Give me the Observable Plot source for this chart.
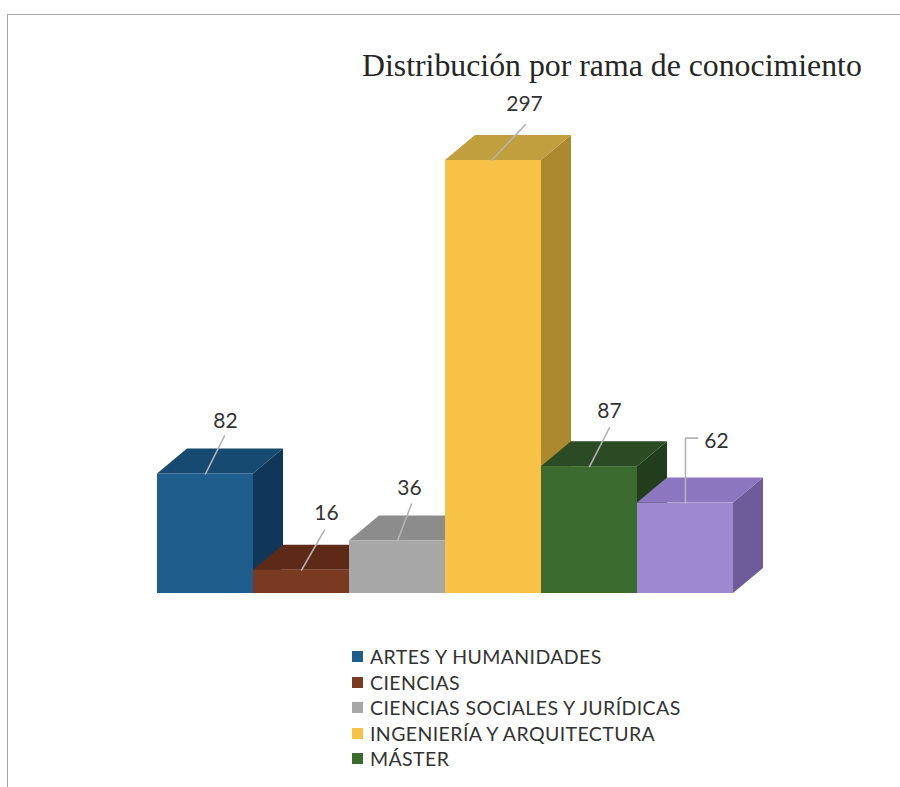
<!DOCTYPE html>
<html>
<head>
<meta charset="utf-8">
<script src="https://cdn.jsdelivr.net/npm/d3@7"></script>
<script src="https://cdn.jsdelivr.net/npm/@observablehq/plot@0.6"></script>
<style>
  html, body { margin: 0; padding: 0; background: #fff; width: 900px; height: 787px; overflow: hidden; }
  #frame { position: absolute; left: 7px; top: 14px; width: 900px; height: 800px;
           border-top: 1.5px solid #a6a6a6; border-left: 1.5px solid #a6a6a6; }
  #title { position: absolute; left: 362px; top: 50px; font-family: "Liberation Serif", "DejaVu Serif", serif;
           font-size: 31.8px; line-height: 32px; color: #262626; white-space: nowrap; }
  #chart { position: absolute; left: 0; top: 90px; }
  #legend { position: absolute; left: 352px; top: 644px; font-family: Lato, "Open Sans", sans-serif;
            font-size: 19.5px; letter-spacing: 0.4px; color: #333; }
  .li { height: 25.5px; line-height: 25.5px; white-space: nowrap; display: flex; align-items: center; }
  .sw { width: 11px; height: 11px; margin-right: 7px; flex: none; }
</style>
</head>
<body>
<div id="frame"></div>
<div id="title">Distribución por rama de conocimiento</div>
<div id="chart"></div>
<div id="legend"></div>
<script>
// ---- data ----
const categories = ["ARTES Y HUMANIDADES", "CIENCIAS", "CIENCIAS SOCIALES Y JURÍDICAS",
                    "INGENIERÍA Y ARQUITECTURA", "MÁSTER", "(sin leyenda)"];
const values = [82, 16, 36, 297, 87, 62];
const legendCategories = ["ARTES Y HUMANIDADES", "CIENCIAS", "CIENCIAS SOCIALES Y JURÍDICAS",
                          "INGENIERÍA Y ARQUITECTURA", "MÁSTER"];

// ---- styles ----
const frontColors = ["#1f5d8c", "#7a3a22", "#a7a7a7", "#f7c246", "#3c6b30", "#9e89d1"];
const topColors   = ["#174a71", "#5e2a18", "#8c8c8c", "#c29f3e", "#2a4b23", "#8b76bf"];
const sideColors  = ["#10365a", "#4d2214", "#7b7b7b", "#ac882e", "#213d1c", "#6e5b9a"];
const legendColors = ["#1f5d8c", "#7a3a22", "#a7a7a7", "#f7c246", "#3c6b30"];
// leader-line paths and label anchors, in pixels relative to the bar's front-top centre
const leaderPx = [
  [[0, 0], [19, -38]],
  [[0, 0], [23, -40]],
  [[0, 0], [14, -37]],
  [[-2, 0], [32, -36]],
  [[0, 0], [20, -39]],
  [[0, 0], [0, -65], [12, -65]]
];
const labelPx = [[20, -53], [25, -57], [12, -53], [31, -56], [20, -55], [31, -62]];

// ---- geometry (pixel sizes converted into data units) ----
const W = 900, H = 520, mL = 157, mR = 167, mT = 0, mB = 17;
const xDomain = [0, categories.length], yDomain = [0, 345];
const pxPerX = (W - mL - mR) / (xDomain[1] - xDomain[0]);
const pxPerY = (H - mT - mB) / (yDomain[1] - yDomain[0]);
const DX = 30 / pxPerX, DY = 25 / pxPerY;

const bars = categories.map((c, i) => ({
  i, c, v: values[i], x0: i, x1: i + 1, y0: 0, cx: i + 0.5,
  front: frontColors[i], top: topColors[i], side: sideColors[i]
}));

const sideData = bars.flatMap(b => [
  {z: b.i, x: b.x1, y1: 0, y2: b.v, fill: b.side},
  {z: b.i, x: b.x1 + DX, y1: DY, y2: b.v + DY, fill: b.side}
]);
const topData = bars.flatMap(b => [
  {z: b.i, y: b.v, x1: b.x0, x2: b.x1, fill: b.top},
  {z: b.i, y: b.v + DY, x1: b.x0 + DX, x2: b.x1 + DX, fill: b.top}
]);
const leaderData = bars.flatMap(b => leaderPx[b.i].map(([px, py]) => ({
  z: b.i, x: b.cx + px / pxPerX, y: b.v - py / pxPerY
})));
const labelData = bars.map(b => ({
  x: b.cx + labelPx[b.i][0] / pxPerX, y: b.v - labelPx[b.i][1] / pxPerY, t: String(b.v)
}));

const chart = Plot.plot({
  width: W, height: H,
  marginLeft: mL, marginRight: mR, marginTop: mT, marginBottom: mB,
  x: {type: "linear", domain: xDomain, axis: null},
  y: {type: "linear", domain: yDomain, axis: null},
  color: {type: "identity"},
  style: {background: "transparent", overflow: "visible"},
  marks: [
    Plot.areaY(sideData, {x: "x", y1: "y1", y2: "y2", z: "z", fill: "fill"}),
    Plot.areaX(topData, {y: "y", x1: "x1", x2: "x2", z: "z", fill: "fill"}),
    Plot.rect(bars, {x1: "x0", x2: "x1", y1: "y0", y2: "v", fill: "front"}),
    Plot.line(leaderData, {x: "x", y: "y", z: "z", stroke: "#b4b4b4", strokeWidth: 1.6, curve: "linear"}),
    Plot.text(labelData, {x: "x", y: "y", text: "t", fontSize: 21, fontFamily: "Lato, 'Open Sans', sans-serif", fill: "#333"})
  ]
});
document.getElementById("chart").appendChild(chart);

// ---- legend ----
const leg = document.getElementById("legend");
legendCategories.forEach((c, i) => {
  const row = document.createElement("div");
  row.className = "li";
  const sw = document.createElement("span");
  sw.className = "sw";
  sw.style.background = legendColors[i];
  const tx = document.createElement("span");
  tx.textContent = c;
  row.appendChild(sw);
  row.appendChild(tx);
  leg.appendChild(row);
});
</script>
</body>
</html>
